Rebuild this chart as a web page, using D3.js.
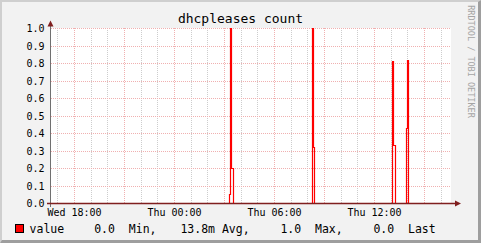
<!DOCTYPE html>
<html>
<head>
<meta charset="utf-8">
<script src="https://cdn.jsdelivr.net/npm/d3@7"></script>
<style>
  html, body { margin: 0; padding: 0; background: #fff; }
  svg { display: block; }
  text { font-family: "DejaVu Sans Mono", monospace; }
</style>
</head>
<body>
<div id="chart"></div>
<script>
// one day window, Wed 16:37 -> Thu 16:37
var rangeStart = "2011-01-12 16:37:12";
var rangeEnd = "2011-01-13 16:37:12";

// step samples (time the value starts, value)
var sampleTimes = [
  "2011-01-12 16:37:12",
  "2011-01-13 03:19:48", "2011-01-13 03:23:24", "2011-01-13 03:27:00", "2011-01-13 03:34:12",
  "2011-01-13 08:18:36", "2011-01-13 08:22:12", "2011-01-13 08:25:48",
  "2011-01-13 13:06:36", "2011-01-13 13:10:12", "2011-01-13 13:17:24",
  "2011-01-13 13:57:00", "2011-01-13 14:00:36", "2011-01-13 14:04:12",
  "2011-01-13 16:37:12"
];
var sampleValues = [
  0,
  0.05, 1.0, 0.2, 0,
  1.0, 0.32, 0,
  0.81, 0.33, 0,
  0.43, 0.82, 0,
  0
];

var yTicks = [0, 0.1, 0.2, 0.3, 0.4, 0.5, 0.6, 0.7, 0.8, 0.9, 1.0];
var xLabels = ["2011-01-12 18:00:00", "2011-01-13 00:00:00", "2011-01-13 06:00:00", "2011-01-13 12:00:00"];

var title = "dhcpleases count";
var legendName = "value";
var legendParts = ["0.0  Min,", "13.8m Avg,", "1.0  Max,", "0.0  Last"];
var legendX = [94.2, 180.4, 280.4, 373.4];

var parse = d3.timeParse("%Y-%m-%d %H:%M:%S");
var fmt = d3.timeFormat("%a %H:%M");

var width = 481, height = 243;
var plot = {left: 51, right: 451, top: 28, bottom: 203};

var svg = d3.select("#chart").append("svg")
    .attr("width", width)
    .attr("height", height);

// background + shading frame
svg.append("rect").attr("width", width).attr("height", height).attr("fill", "#f2f2f2");
svg.append("path").attr("d", "M0,0H481L479,2H2V241L0,243Z").attr("fill", "#cfcfcf");
svg.append("path").attr("d", "M481,0V243H0L2,240H478V2Z").attr("fill", "#9e9e9e");

svg.append("rect")
    .attr("x", plot.left).attr("y", plot.top)
    .attr("width", plot.right - plot.left).attr("height", plot.bottom - plot.top)
    .attr("fill", "#fff");

var x = d3.scaleTime()
    .domain([parse(rangeStart), parse(rangeEnd)])
    .range([plot.left, plot.right]);

var y = d3.scaleLinear()
    .domain([0, 1])
    .range([plot.bottom, plot.top]);

function px(v) { return Math.round(v) + 0.5; }

// minor vertical grid: every hour
var hours = d3.timeHour.every(1).range(x.domain()[0], x.domain()[1]);
svg.append("g").selectAll("line")
    .data(hours.filter(function(d) { return d.getHours() % 3 !== 0; }))
    .enter().append("line")
    .attr("x1", function(d) { return px(x(d)); })
    .attr("x2", function(d) { return px(x(d)); })
    .attr("y1", plot.top).attr("y2", plot.bottom)
    .attr("stroke", "#cdcdcd")
    .attr("stroke-dasharray", "1,1");

// major vertical grid: every 3 hours
svg.append("g").selectAll("line")
    .data(hours.filter(function(d) { return d.getHours() % 3 === 0; }))
    .enter().append("line")
    .attr("x1", function(d) { return px(x(d)); })
    .attr("x2", function(d) { return px(x(d)); })
    .attr("y1", plot.top).attr("y2", plot.bottom)
    .attr("stroke", "#f0b0b0")
    .attr("stroke-dasharray", "1,1");

// horizontal grid
svg.append("g").selectAll("line")
    .data(yTicks)
    .enter().append("line")
    .attr("x1", plot.left).attr("x2", plot.right)
    .attr("y1", function(d) { return px(y(d)); })
    .attr("y2", function(d) { return px(y(d)); })
    .attr("stroke", "#f0b0b0")
    .attr("stroke-dasharray", "1,1");

// y labels
svg.append("g").selectAll("text")
    .data(yTicks)
    .enter().append("text")
    .attr("x", 44.5)
    .attr("y", function(d) { return px(y(d)) + 3.5; })
    .attr("text-anchor", "end")
    .attr("font-size", "10px")
    .attr("fill", "#000")
    .text(function(d) { return d3.format(".1f")(d); });

// x labels
svg.append("g").selectAll("text")
    .data(xLabels.map(parse))
    .enter().append("text")
    .attr("x", function(d) { return px(x(d)); })
    .attr("y", 216)
    .attr("text-anchor", "middle")
    .attr("font-size", "10px")
    .attr("fill", "#000")
    .text(function(d) { return fmt(d); });

// data line
var data = sampleTimes.map(function(t, i) { return {t: parse(t), v: sampleValues[i]}; });
var line = d3.line()
    .x(function(d) { return x(d.t); })
    .y(function(d) { return px(y(d.v)); })
    .curve(d3.curveStepAfter);

svg.append("path")
    .datum(data)
    .attr("d", line)
    .attr("fill", "none")
    .attr("stroke", "#ff0000")
    .attr("stroke-width", 1.2);

// axes
svg.append("line")
    .attr("x1", 50.5).attr("x2", 50.5)
    .attr("y1", 207).attr("y2", 25)
    .attr("stroke", "#707070");
svg.append("path")
    .attr("d", "M47.5,26.5L53.5,26.5L50.5,20.5Z")
    .attr("fill", "#801f1f");
svg.append("line")
    .attr("x1", 47).attr("x2", 456)
    .attr("y1", 203.5).attr("y2", 203.5)
    .attr("stroke", "#801f1f")
    .attr("stroke-width", 1.3);
svg.append("path")
    .attr("d", "M455,200.5L455,206.5L461,203.5Z")
    .attr("fill", "#801f1f");

// title
svg.append("text")
    .attr("x", 240.5).attr("y", 22.5)
    .attr("text-anchor", "middle")
    .attr("font-size", "13px")
    .attr("fill", "#000")
    .text(title);

// watermark
svg.append("text")
    .attr("transform", "translate(468,61.5) rotate(90)")
    .attr("text-anchor", "middle")
    .attr("font-size", "8.5px")
    .attr("fill", "#a4a4a4")
    .text("RRDTOOL / TOBI OETIKER");

// legend
svg.append("rect")
    .attr("x", 15.5).attr("y", 224.5)
    .attr("width", 8).attr("height", 8)
    .attr("fill", "#ff0000")
    .attr("stroke", "#000");
svg.append("text")
    .attr("x", 29.6).attr("y", 233)
    .attr("font-size", "11.5px")
    .attr("fill", "#000")
    .text(legendName);
svg.append("g").selectAll("text")
    .data(legendParts)
    .enter().append("text")
    .attr("x", function(d, i) { return legendX[i]; })
    .attr("y", 233)
    .attr("font-size", "11.5px")
    .attr("fill", "#000")
    .attr("xml:space", "preserve")
    .style("white-space", "pre")
    .text(function(d) { return d; });
</script>
</body>
</html>
